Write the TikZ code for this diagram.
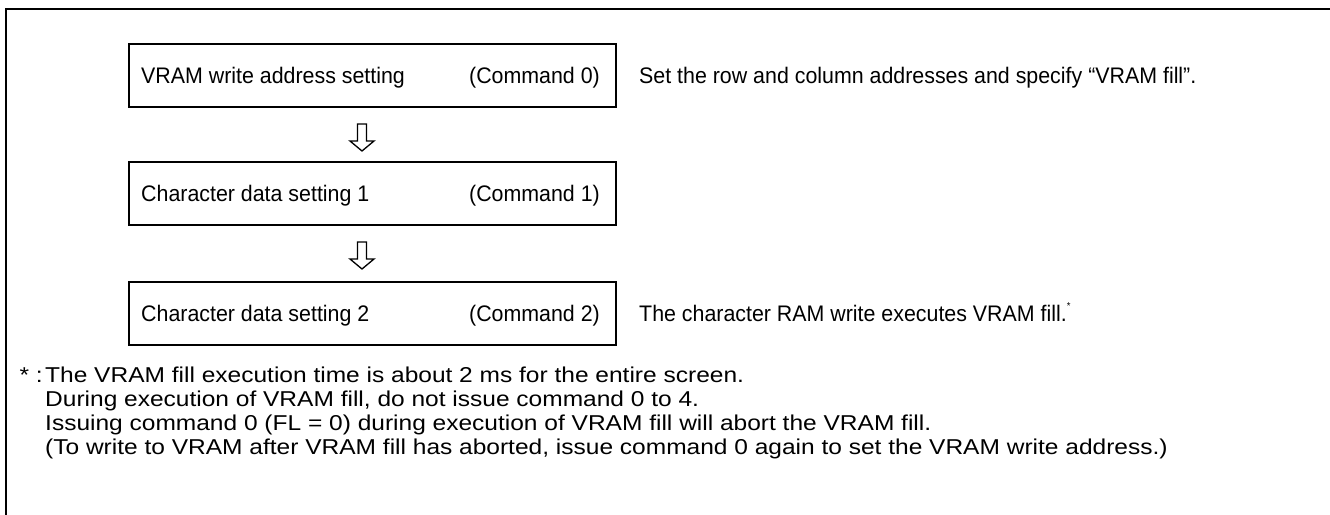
\documentclass[tikz,border=0pt]{standalone}
\usepackage{fontspec}
\setmainfont{Liberation Sans}
\newfontfamily\boxfont{Liberation Sans}[FakeStretch=0.95]
\newfontfamily\footfont{Liberation Sans}[FakeStretch=1.14]
\usetikzlibrary{calc}
\begin{document}
\begin{tikzpicture}[x=1pt,y=-1pt,
  stepbox/.style={draw,line width=2pt,minimum width=487pt,minimum height=63pt,inner sep=0pt,anchor=north west},
  boxtxt/.style={inner sep=0pt,font=\boxfont\fontsize{22.5}{26}\selectfont},
  sidetxt/.style={inner sep=0pt,anchor=base west,font=\boxfont\fontsize{22.5}{26}\selectfont},
  foot/.style={inner sep=0pt,anchor=base west,font=\footfont\fontsize{21.5}{24}\selectfont},
  hollowarrow/.pic={\draw[line width=1.3pt,line join=miter] (-4.5,0) -- (-4.5,17) -- (-12,17) -- (0,27) -- (12,17) -- (4.5,17) -- (4.5,0) -- cycle;}
]
\useasboundingbox (0,0) rectangle (1330,514);
\draw[line width=2.5pt] (6,520) -- (6,9) -- (1340,9);

\node[stepbox] (b1) at (128,43) {};
\node[stepbox] (b2) at (128,161) {};
\node[stepbox] (b3) at (128,281) {};

\node[boxtxt,anchor=base west] (t1l) at ($(b1.west)+(13,8)$) {VRAM write address setting};
\node[boxtxt,anchor=base east] (t1r) at ($(b1.east)+(-17,8)$) {(Command 0)};
\node[boxtxt,anchor=base west] (t2l) at ($(b2.west)+(13,8)$) {Character data setting 1};
\node[boxtxt,anchor=base east] (t2r) at ($(b2.east)+(-17,8)$) {(Command 1)};
\node[boxtxt,anchor=base west] (t3l) at ($(b3.west)+(13,8)$) {Character data setting 2};
\node[boxtxt,anchor=base east] (t3r) at ($(b3.east)+(-17,8)$) {(Command 2)};

\pic at ($(b1.south)+(-10.5,16)$) {hollowarrow};
\pic at ($(b2.south)+(-10.5,16)$) {hollowarrow};

\node[sidetxt] (s1) at ($(b1.east)+(22,8)$) {Set the row and column addresses and specify “VRAM fill”.};
\node[sidetxt] (s3) at ($(b3.east)+(22,8)$) {The character RAM write executes VRAM fill.\raisebox{0.55em}{\fontsize{10}{10}\selectfont *}};

\node[foot,anchor=base east] (fs) at (43,382) {* :};
\node[foot] (f1) at (45,382) {The VRAM fill execution time is about 2 ms for the entire screen.};
\node[foot] (f2) at (45,406) {During execution of VRAM fill, do not issue command 0 to 4.};
\node[foot] (f3) at (45,430) {Issuing command 0 (FL = 0) during execution of VRAM fill will abort the VRAM fill.};
\node[foot] (f4) at (45,454) {(To write to VRAM after VRAM fill has aborted, issue command 0 again to set the VRAM write address.)};
\end{tikzpicture}
\end{document}
